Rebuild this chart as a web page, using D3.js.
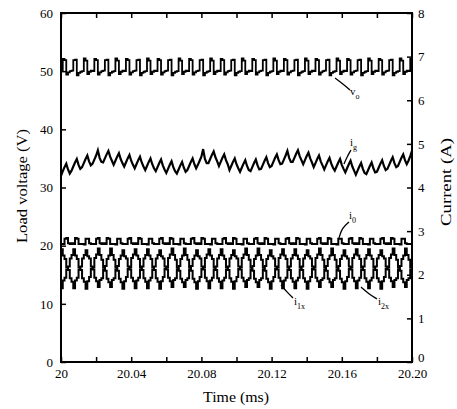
<!DOCTYPE html>
<html><head><meta charset="utf-8">
<script src="https://cdn.jsdelivr.net/npm/d3@7"></script>
<style>
body{margin:0;background:#fff}
svg text{font-family:"Liberation Serif","Times New Roman",serif;fill:#000}
</style>
</head><body>
<svg id="chart" width="457" height="409"></svg>
<script>
// ---- data (sampled every 0.001 ms from 20.000 ms) ----
const timeStart = 20.0;
const timeStep = 0.001;
const xTickValues = [20, 20.02, 20.04, 20.06, 20.08, 20.1, 20.12, 20.14, 20.16, 20.18, 20.2];
const xTickLabels = ["20", "", "20.04", "", "20.08", "", "20.12", "", "20.16", "", "20.20"];
const leftTicks = [0, 10, 20, 30, 40, 50, 60];
const rightTicks = [0, 1, 2, 3, 4, 5, 6, 7, 8];

// load voltage v_o (V)
const vo = [
50.0,52.1,51.9,49.4,49.8,50.0, 50.1,51.9,52.0,49.3,49.7,49.9, 50.0,52.2,51.8,49.5,49.9,50.1,
50.0,52.1,51.9,49.4,49.8,50.0, 50.1,51.9,52.0,49.3,49.7,49.9, 50.0,52.2,51.8,49.5,49.9,50.1,
50.0,52.1,51.9,49.4,49.8,50.0, 50.1,51.9,52.0,49.3,49.7,49.9, 50.0,52.2,51.8,49.5,49.9,50.1,
50.0,52.1,51.9,49.4,49.8,50.0, 50.1,51.9,52.0,49.3,49.7,49.9, 50.0,52.2,51.8,49.5,49.9,50.1,
50.0,52.1,51.9,49.4,49.8,50.0, 50.1,51.9,52.0,49.3,49.7,49.9, 50.0,52.2,51.8,49.5,49.9,50.1,
50.0,52.1,51.9,49.4,49.8,50.0, 50.1,51.9,52.0,49.3,49.7,49.9, 50.0,52.2,51.8,49.5,49.9,50.1,
50.0,52.1,51.9,49.4,49.8,50.0, 50.1,51.9,52.0,49.3,49.7,49.9, 50.0,52.2,51.8,49.5,49.9,50.1,
50.0,52.1,51.9,49.4,49.8,50.0, 50.1,51.9,52.0,49.3,49.7,49.9, 50.0,52.2,51.8,49.5,49.9,50.1,
50.0,52.1,51.9,49.4,49.8,50.0, 50.1,51.9,52.0,49.3,49.7,49.9, 50.0,52.2,51.8,49.5,49.9,50.1,
50.0,52.1,51.9,49.4,49.8,50.0, 50.1,51.9,52.0,49.3,49.7,49.9, 50.0,52.2,51.8,49.5,49.9,50.1,
50.0,52.1,51.9,49.4,49.8,50.0, 50.1,51.9,52.0,49.3,49.7,49.9, 50.0,52.2,51.8,49.5,49.9,50.1,
50.0,52.1,51.9
];

// grid current i_g (plotted on the voltage scale)
const ig = [
32.0,32.8,33.5,34.1,33.1,32.4, 32.9,33.6,34.3,34.9,33.9,33.2, 33.5,34.2,34.9,35.5,34.5,33.8,
34.1,34.8,35.5,36.4,35.1,34.4, 34.3,35.0,35.7,36.3,35.3,34.6, 33.9,34.6,35.3,35.9,34.9,34.2,
33.6,34.3,35.0,35.6,34.6,33.9, 33.3,34.0,34.7,35.3,34.3,33.6, 33.0,33.7,34.4,35.0,34.0,33.3,
32.8,33.5,34.2,34.8,33.8,33.1, 32.5,33.2,33.9,34.5,33.5,32.8, 32.4,33.1,33.8,34.4,33.4,32.7,
33.0,33.7,34.4,35.0,34.0,33.3, 33.9,34.6,35.3,36.6,34.9,34.2, 34.2,34.9,35.6,36.2,35.2,34.5,
33.7,34.4,35.1,35.7,34.7,34.0, 33.0,33.7,34.4,35.0,34.0,33.3, 32.7,33.4,34.1,34.7,33.7,33.0,
32.8,33.5,34.2,34.8,33.8,33.1, 33.2,33.9,34.6,35.2,34.2,33.5, 33.7,34.4,35.1,35.7,34.7,34.0,
34.1,34.8,35.5,36.3,35.1,34.4, 34.4,35.1,35.8,36.4,35.4,34.7, 34.0,34.7,35.4,36.0,35.0,34.3,
33.5,34.2,34.9,35.5,34.5,33.8, 33.1,33.8,34.5,35.1,34.1,33.4, 32.9,33.6,34.3,34.9,33.9,33.2,
32.6,33.3,34.0,34.6,33.6,32.9, 32.2,32.9,33.6,34.2,33.2,32.5, 32.3,33.0,33.7,34.3,33.3,32.6,
32.7,33.4,34.1,34.7,33.7,33.0, 33.2,33.9,34.6,35.2,34.2,33.5, 33.7,34.4,35.1,35.7,34.7,34.0,
34.6,35.4,36.3
];

// output current i_0
const i0 = [
20.3,20.3,21.2,21.3,20.4,20.3, 20.4,20.3,21.3,21.2,20.3,20.3, 20.3,20.2,21.2,21.2,20.4,20.3,
20.3,20.3,21.2,21.3,20.4,20.3, 20.4,20.3,21.3,21.2,20.3,20.3, 20.3,20.2,21.2,21.2,20.4,20.3,
20.3,20.3,21.2,21.3,20.4,20.3, 20.4,20.3,21.3,21.2,20.3,20.3, 20.3,20.2,21.2,21.2,20.4,20.3,
20.3,20.3,21.2,21.3,20.4,20.3, 20.4,20.3,21.3,21.2,20.3,20.3, 20.3,20.2,21.2,21.2,20.4,20.3,
20.3,20.3,21.2,21.3,20.4,20.3, 20.4,20.3,21.3,21.2,20.3,20.3, 20.3,20.2,21.2,21.2,20.4,20.3,
20.3,20.3,21.2,21.3,20.4,20.3, 20.4,20.3,21.3,21.2,20.3,20.3, 20.3,20.2,21.2,21.2,20.4,20.3,
20.3,20.3,21.2,21.3,20.4,20.3, 20.4,20.3,21.3,21.2,20.3,20.3, 20.3,20.2,21.2,21.2,20.4,20.3,
20.3,20.3,21.2,21.3,20.4,20.3, 20.4,20.3,21.3,21.2,20.3,20.3, 20.3,20.2,21.2,21.2,20.4,20.3,
20.3,20.3,21.2,21.3,20.4,20.3, 20.4,20.3,21.3,21.2,20.3,20.3, 20.3,20.2,21.2,21.2,20.4,20.3,
20.3,20.3,21.2,21.3,20.4,20.3, 20.4,20.3,21.3,21.2,20.3,20.3, 20.3,20.2,21.2,21.2,20.4,20.3,
20.3,20.3,21.2,21.3,20.4,20.3, 20.4,20.3,21.3,21.2,20.3,20.3, 20.3,20.2,21.2,21.2,20.4,20.3,
20.3,20.3,21.2
];

// inductor current i_1x
const i1x = [
12.7,14.0,14.5,15.9,16.4,17.8,18.4,19.4,18.3,17.7,16.3,15.8,14.4,13.8,
12.6,13.9,14.6,16.0,16.3,17.9,18.5,19.5,18.4,17.6,16.2,15.7,14.3,13.7,
12.9,14.1,14.4,15.8,16.5,17.7,18.3,19.2,18.2,17.8,16.4,15.9,14.5,13.9,
12.7,14.0,14.5,15.9,16.4,17.8,18.4,19.4,18.3,17.7,16.3,15.8,14.4,13.8,
12.6,13.9,14.6,16.0,16.3,17.9,18.5,19.5,18.4,17.6,16.2,15.7,14.3,13.7,
12.9,14.1,14.4,15.8,16.5,17.7,18.3,19.2,18.2,17.8,16.4,15.9,14.5,13.9,
12.7,14.0,14.5,15.9,16.4,17.8,18.4,19.4,18.3,17.7,16.3,15.8,14.4,13.8,
12.6,13.9,14.6,16.0,16.3,17.9,18.5,19.5,18.4,17.6,16.2,15.7,14.3,13.7,
12.9,14.1,14.4,15.8,16.5,17.7,18.3,19.2,18.2,17.8,16.4,15.9,14.5,13.9,
12.7,14.0,14.5,15.9,16.4,17.8,18.4,19.4,18.3,17.7,16.3,15.8,14.4,13.8,
12.6,13.9,14.6,16.0,16.3,17.9,18.5,19.5,18.4,17.6,16.2,15.7,14.3,13.7,
12.9,14.1,14.4,15.8,16.5,17.7,18.3,19.2,18.2,17.8,16.4,15.9,14.5,13.9,
12.7,14.0,14.5,15.9,16.4,17.8,18.4,19.4,18.3,17.7,16.3,15.8,14.4,13.8,
12.6,13.9,14.6,16.0,16.3,17.9,18.5,19.5,18.4,17.6,16.2,15.7,14.3,13.7,
12.9,14.1,14.4,15.8,16.5
];

// inductor current i_2x
const i2x = [
19.4,18.3,17.7,16.3,15.8,14.4,13.8,12.7,14.0,14.5,15.9,16.4,17.8,18.4,
19.2,18.2,17.8,16.4,15.9,14.5,13.9,12.9,14.1,14.4,15.8,16.5,17.7,18.3,
19.5,18.4,17.6,16.2,15.7,14.3,13.7,12.6,13.9,14.6,16.0,16.3,17.9,18.5,
19.4,18.3,17.7,16.3,15.8,14.4,13.8,12.7,14.0,14.5,15.9,16.4,17.8,18.4,
19.2,18.2,17.8,16.4,15.9,14.5,13.9,12.9,14.1,14.4,15.8,16.5,17.7,18.3,
19.5,18.4,17.6,16.2,15.7,14.3,13.7,12.6,13.9,14.6,16.0,16.3,17.9,18.5,
19.4,18.3,17.7,16.3,15.8,14.4,13.8,12.7,14.0,14.5,15.9,16.4,17.8,18.4,
19.2,18.2,17.8,16.4,15.9,14.5,13.9,12.9,14.1,14.4,15.8,16.5,17.7,18.3,
19.5,18.4,17.6,16.2,15.7,14.3,13.7,12.6,13.9,14.6,16.0,16.3,17.9,18.5,
19.4,18.3,17.7,16.3,15.8,14.4,13.8,12.7,14.0,14.5,15.9,16.4,17.8,18.4,
19.2,18.2,17.8,16.4,15.9,14.5,13.9,12.9,14.1,14.4,15.8,16.5,17.7,18.3,
19.5,18.4,17.6,16.2,15.7,14.3,13.7,12.6,13.9,14.6,16.0,16.3,17.9,18.5,
19.4,18.3,17.7,16.3,15.8,14.4,13.8,12.7,14.0,14.5,15.9,16.4,17.8,18.4,
19.2,18.2,17.8,16.4,15.9,14.5,13.9,12.9,14.1,14.4,15.8,16.5,17.7,18.3,
19.5,18.4,17.6,16.2,15.7
];

// ---- drawing ----
const svg = d3.select("#chart");
const plot = {left: 61, right: 412, top: 13, bottom: 362};
const x = d3.scaleLinear().domain([20, 20.2]).range([plot.left, plot.right]);
const y = d3.scaleLinear().domain([0, 60]).range([plot.bottom, plot.top]);
const yR = d3.scaleLinear().domain([0, 8]).range([plot.bottom, plot.top]);
const FONT = '"Liberation Serif","Times New Roman",serif';

svg.append("rect").attr("width", 457).attr("height", 409).attr("fill", "#fff");

svg.append("clipPath").attr("id", "clip").append("rect")
  .attr("x", plot.left).attr("y", plot.top)
  .attr("width", plot.right - plot.left).attr("height", plot.bottom - plot.top);

const toPts = arr => arr.map((v, i) => [timeStart + i * timeStep, v]);
const stepLine = d3.line().x(d => x(d[0])).y(d => y(d[1])).curve(d3.curveStepAfter);
const linLine = d3.line().x(d => x(d[0])).y(d => y(d[1]));

const g = svg.append("g").attr("clip-path", "url(#clip)");
const seriesDefs = [
  {data: vo, gen: stepLine, w: 1.8},
  {data: ig, gen: linLine, w: 2.2},
  {data: i0, gen: stepLine, w: 2},
  {data: i1x, gen: stepLine, w: 2},
  {data: i2x, gen: stepLine, w: 2}
];
seriesDefs.forEach(s => {
  g.append("path").attr("d", s.gen(toPts(s.data)))
    .attr("fill", "none").attr("stroke", "#000").attr("stroke-width", s.w)
    .attr("stroke-linejoin", "miter");
});

// axes
function styleAxis(sel) {
  sel.select(".domain").remove();
  sel.selectAll(".tick line").attr("stroke", "#000").attr("stroke-width", 1.5);
  sel.selectAll("text").attr("font-family", FONT).attr("font-size", 13).attr("fill", "#000");
  sel.attr("font-family", FONT);
}
svg.append("g").attr("transform", `translate(0,${plot.bottom})`)
  .call(d3.axisBottom(x).tickValues(xTickValues).tickSize(-5).tickPadding(7)
    .tickFormat((d, i) => xTickLabels[i]))
  .call(styleAxis);
svg.append("g").attr("transform", `translate(0,${plot.top})`)
  .call(d3.axisTop(x).tickValues(xTickValues).tickSize(-5).tickFormat(""))
  .call(styleAxis);
svg.append("g").attr("transform", `translate(${plot.left},0)`)
  .call(d3.axisLeft(y).tickValues(leftTicks).tickSize(-5).tickPadding(8))
  .call(styleAxis);
const rAxis = svg.append("g").attr("transform", `translate(${plot.right},0)`)
  .call(d3.axisRight(yR).tickValues(rightTicks).tickSize(-5).tickPadding(6))
  .call(styleAxis);
// lift the right-hand "0" slightly so it clears the "20.20" label (as in the original)
rAxis.selectAll(".tick text").filter(d => d === 0).attr("dy", "-0.05em");

// frame
svg.append("rect").attr("x", plot.left).attr("y", plot.top)
  .attr("width", plot.right - plot.left).attr("height", plot.bottom - plot.top)
  .attr("fill", "none").attr("stroke", "#000").attr("stroke-width", 2);

// axis titles
svg.append("text").attr("x", 236).attr("y", 402).attr("text-anchor", "middle")
  .attr("font-size", 14).attr("textLength", 66).attr("lengthAdjust", "spacingAndGlyphs")
  .text("Time (ms)");
svg.append("text").attr("transform", "translate(27,186) rotate(-90)").attr("text-anchor", "middle")
  .attr("font-size", 14).attr("textLength", 114).attr("lengthAdjust", "spacingAndGlyphs")
  .text("Load voltage (V)");
svg.append("text").attr("transform", "translate(451,182) rotate(-90)").attr("text-anchor", "middle")
  .attr("font-size", 14).attr("textLength", 88).attr("lengthAdjust", "spacingAndGlyphs")
  .text("Current (A)");

// annotations
const ann = svg.append("g");
function leader(pts) {
  ann.append("path").attr("d", d3.line().curve(d3.curveBasis)(pts))
    .attr("fill", "none").attr("stroke", "#000").attr("stroke-width", 1.3);
}
function label(xp, yp, main, sub) {
  const t = ann.append("text").attr("x", xp).attr("y", yp).attr("font-size", 11);
  t.append("tspan").text(main);
  t.append("tspan").attr("dy", 4).attr("font-size", 8).text(sub);
}
leader([[335, 78], [343, 84], [350, 90]]);
label(350, 95, "v", "o");
leader([[344, 164], [347, 157], [351, 150]]);
label(350, 146, "i", "g");
leader([[339, 238], [342, 228], [349, 222]]);
label(349, 219, "i", "0");
leader([[281, 285], [287, 292], [293, 298]]);
label(294, 305, "i", "1x");
leader([[361, 287], [369, 294], [377, 299]]);
label(378, 305, "i", "2x");
</script>
</body></html>
